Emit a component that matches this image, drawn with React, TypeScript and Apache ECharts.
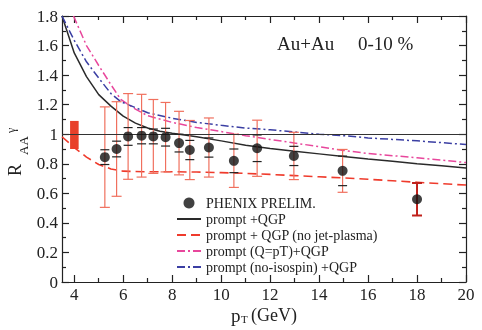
import { useEffect, useRef } from 'react';
import * as echarts from 'echarts';

// PHENIX preliminary data (pT in GeV, R_AA)
const ptData = [5.25, 5.73, 6.2, 6.75, 7.23, 7.73, 8.28, 8.72, 9.5, 10.52, 11.47, 12.97, 14.96];
const raaData = [0.845, 0.9, 0.985, 0.99, 0.985, 0.98, 0.94, 0.893, 0.91, 0.82, 0.905, 0.853, 0.752];
const statErr = [0.34, 0.32, 0.29, 0.28, 0.25, 0.235, 0.215, 0.2, 0.2, 0.18, 0.19, 0.16, 0.145];
const sysErr = [0.05, 0.053, 0.06, 0.055, 0.05, 0.06, 0.06, 0.065, 0.065, 0.08, 0.09, 0.065, 0.1];
// highest pT point (separate error style)
const ptHigh = [18.0];
const raaHigh = [0.56];
const errHigh = [0.11];

// normalization uncertainty box [x0, x1, y0, y1]
const normBox = [[3.83, 4.18, 0.9, 1.09]];
const unityLine = 1;

// model curves
const solidX = [3.5, 4, 4.5, 5, 5.5, 6, 6.5, 7, 7.5, 8, 9, 10, 11, 12, 13, 14, 15, 16, 17, 18, 19, 20];
const solidY = [1.8, 1.55, 1.39, 1.268, 1.19, 1.123, 1.075, 1.042, 1.02, 1.006, 0.983, 0.955, 0.926, 0.903, 0.884, 0.867, 0.85, 0.833, 0.817, 0.801, 0.786, 0.771];

const dashX = [3.5, 4, 4.5, 5, 5.5, 6, 7, 8, 9, 10, 11, 12, 13, 14, 15, 16, 17, 18, 19, 20];
const dashY = [0.983, 0.91, 0.845, 0.795, 0.765, 0.75, 0.746, 0.746, 0.744, 0.74, 0.735, 0.728, 0.72, 0.712, 0.704, 0.695, 0.685, 0.675, 0.665, 0.656];

const pinkX = [3.97, 4.5, 5, 5.5, 5.9, 6.5, 7, 8, 9, 10, 11, 12, 13, 14, 15, 16, 17, 18, 19, 20];
const pinkY = [1.8, 1.6, 1.465, 1.335, 1.235, 1.17, 1.125, 1.08, 1.045, 1.018, 0.99, 0.965, 0.94, 0.916, 0.89, 0.87, 0.855, 0.84, 0.825, 0.808];

const blueX = [3.5, 4, 4.5, 5, 5.5, 5.9, 6.5, 7, 8, 9, 10, 11, 12, 13, 14, 15, 16, 17, 18, 19, 20];
const blueY = [1.8, 1.635, 1.49, 1.38, 1.275, 1.22, 1.18, 1.145, 1.108, 1.08, 1.06, 1.042, 1.03, 1.015, 1.0, 0.99, 0.975, 0.965, 0.955, 0.943, 0.93];

const xMajor = [4, 6, 8, 10, 12, 14, 16, 18, 20];
const xMinor = [5, 7, 9, 11, 13, 15, 17, 19];

const legendNames = [
  'PHENIX PRELIM.',
  'prompt +QGP',
  'prompt + QGP (no jet-plasma)',
  'prompt (Q=pT)+QGP',
  'prompt (no-isospin) +QGP',
];

const FONT = 'Liberation Serif';

const zip = (a: number[], b: number[]) => a.map((v, i) => [v, b[i]]);

const errRender = (color: string, width: number, cap: number, vertical: boolean) =>
  (_p: any, api: any) => {
    const x = api.value(0);
    const lo = api.value(1);
    const hi = api.value(2);
    const a = api.coord([x, lo]);
    const b = api.coord([x, hi]);
    const st = { stroke: color, lineWidth: width, fill: null };
    const children: any[] = [
      { type: 'line', shape: { x1: a[0] - cap, y1: a[1], x2: a[0] + cap, y2: a[1] }, style: st },
      { type: 'line', shape: { x1: b[0] - cap, y1: b[1], x2: b[0] + cap, y2: b[1] }, style: st },
    ];
    if (vertical) {
      children.push({ type: 'line', shape: { x1: a[0], y1: a[1], x2: b[0], y2: b[1] }, style: st });
    }
    return { type: 'group', children };
  };

export default function App() {
  const ref = useRef<HTMLDivElement>(null);
  useEffect(() => {
    if (!ref.current) return;
    const chart = echarts.init(ref.current, null, { renderer: 'svg' });
    const axisLine = { show: true, lineStyle: { color: '#222', width: 1.2 } };
    const xBase = { type: 'value', min: 3.5, max: 20, splitLine: { show: false } };
    const tickStyle = { color: '#222', width: 1.2 };
    chart.setOption({
      animation: false,
      textStyle: { fontFamily: FONT },
      grid: { left: 62, right: 16, top: 16, bottom: 48, containLabel: false },
      title: [
        { text: 'Au+Au', left: 272, top: 29, textStyle: { fontFamily: FONT, fontSize: 19, fontWeight: 'normal', color: '#222' } },
        { text: '0-10 %', left: 353, top: 29, textStyle: { fontFamily: FONT, fontSize: 19, fontWeight: 'normal', color: '#222' } },
      ],
      legend: {
        data: legendNames.map((n, i) => (i === 0 ? { name: n } : { name: n, itemStyle: { opacity: 0 } })),
        orient: 'vertical',
        left: 171,
        top: 191,
        itemWidth: 24,
        itemHeight: 11,
        itemGap: 2,
        selectedMode: false,
        textStyle: { fontFamily: FONT, fontSize: 14, color: '#222' },
      },
      xAxis: [
        {
          ...xBase, position: 'bottom', axisLine,
          axisTick: { show: true, inside: true, length: 7, customValues: xMajor, lineStyle: tickStyle },
          axisLabel: { show: true, customValues: xMajor, fontFamily: FONT, fontSize: 17, color: '#222', margin: 4 },
        },
        {
          ...xBase, position: 'bottom', axisLine: { show: false },
          axisTick: { show: true, inside: true, length: 4, customValues: xMinor, lineStyle: tickStyle },
          axisLabel: { show: false },
        },
        {
          ...xBase, position: 'top', axisLine,
          axisTick: { show: true, inside: true, length: 7, customValues: xMajor, lineStyle: tickStyle },
          axisLabel: { show: false },
        },
        {
          ...xBase, position: 'top', axisLine: { show: false },
          axisTick: { show: true, inside: true, length: 4, customValues: xMinor, lineStyle: tickStyle },
          axisLabel: { show: false },
        },
      ],
      yAxis: [
        {
          type: 'value', min: 0, max: 1.8, interval: 0.2, position: 'left', axisLine,
          splitLine: { show: false },
          axisTick: { show: true, inside: true, length: 7, lineStyle: tickStyle },
          minorTick: { show: true, splitNumber: 2, length: 4, lineStyle: tickStyle },
          axisLabel: { fontFamily: FONT, fontSize: 17, color: '#222', margin: 4 },
        },
        {
          type: 'value', min: 0, max: 1.8, interval: 0.2, position: 'right', axisLine,
          splitLine: { show: false },
          axisTick: { show: true, inside: true, length: 7, lineStyle: tickStyle },
          minorTick: { show: true, splitNumber: 2, length: 4, lineStyle: tickStyle },
          axisLabel: { show: false },
        },
      ],
      graphic: [
        {
          type: 'group', x: 24, y: 176, rotation: Math.PI / 2,
          children: [
            { type: 'text', style: { text: 'R', x: 0, y: 0, font: `18px "${FONT}"`, fill: '#222', verticalAlign: 'bottom' } },
            { type: 'text', style: { text: 'AA', x: 21, y: 6, font: `13px "${FONT}"`, fill: '#222', verticalAlign: 'bottom' } },
            { type: 'text', style: { text: 'γ', x: 43, y: -7, font: `12px "${FONT}"`, fill: '#222', verticalAlign: 'bottom' } },
          ],
        },
        { type: 'text', left: 231, top: 306, style: { text: 'p', font: `19px "${FONT}"`, fill: '#222' } },
        { type: 'text', left: 241, top: 313, style: { text: 'T', font: `11px "${FONT}"`, fill: '#222' } },
        { type: 'text', left: 251, top: 306, style: { text: '(GeV)', font: `18px "${FONT}"`, fill: '#222' } },
      ],
      series: [
        {
          name: 'norm',
          type: 'custom',
          data: normBox,
          encode: { x: [0, 1], y: [2, 3] },
          renderItem: (_p: any, api: any) => {
            const a = api.coord([api.value(0), api.value(3)]);
            const b = api.coord([api.value(1), api.value(2)]);
            return { type: 'rect', shape: { x: a[0], y: a[1], width: b[0] - a[0], height: b[1] - a[1] }, style: { fill: '#e8402a' } };
          },
          z: 1,
        },
        {
          name: 'prompt +QGP',
          type: 'line',
          data: zip(solidX, solidY),
          symbol: 'none',
          lineStyle: { color: '#2a2a2a', width: 1.5, type: 'solid' },
          itemStyle: { color: '#2a2a2a' },
          markLine: {
            silent: true,
            symbol: 'none',
            label: { show: false },
            lineStyle: { color: '#333', width: 1.2, type: 'solid' },
            data: [{ yAxis: unityLine }],
          },
          z: 3,
        },
        {
          name: 'prompt + QGP (no jet-plasma)',
          type: 'line',
          data: zip(dashX, dashY),
          symbol: 'none',
          lineStyle: { color: '#ef3b2c', width: 1.6, type: [9, 5] },
          itemStyle: { color: '#ef3b2c' },
          z: 3,
        },
        {
          name: 'prompt (Q=pT)+QGP',
          type: 'line',
          data: zip(pinkX, pinkY),
          symbol: 'none',
          lineStyle: { color: '#e8479c', width: 1.5, type: [8, 3, 2, 3] },
          itemStyle: { color: '#e8479c' },
          z: 3,
        },
        {
          name: 'prompt (no-isospin) +QGP',
          type: 'line',
          data: zip(blueX, blueY),
          symbol: 'none',
          lineStyle: { color: '#3b3fa3', width: 1.5, type: [8, 3, 2, 3] },
          itemStyle: { color: '#3b3fa3' },
          z: 3,
        },
        {
          name: 'stat',
          type: 'custom',
          data: ptData.map((x, i) => [x, raaData[i] - statErr[i], raaData[i] + statErr[i]]),
          encode: { x: 0, y: [1, 2] },
          renderItem: errRender('#f0705e', 1.2, 5, true),
          z: 4,
        },
        {
          name: 'statHigh',
          type: 'custom',
          data: ptHigh.map((x, i) => [x, raaHigh[i] - errHigh[i], raaHigh[i] + errHigh[i]]),
          encode: { x: 0, y: [1, 2] },
          renderItem: errRender('#c0211b', 2, 5, true),
          z: 4,
        },
        {
          name: 'sys',
          type: 'custom',
          data: ptData.map((x, i) => [x, raaData[i] - sysErr[i], raaData[i] + sysErr[i]]),
          encode: { x: 0, y: [1, 2] },
          renderItem: errRender('#222', 1.2, 4.5, false),
          z: 5,
        },
        {
          name: 'PHENIX PRELIM.',
          type: 'scatter',
          data: zip(ptData.concat(ptHigh), raaData.concat(raaHigh)),
          symbol: 'circle',
          symbolSize: 10,
          itemStyle: { color: '#111' },
          z: 6,
        },
      ],
    });
    return () => chart.dispose();
  }, []);
  return <div ref={ref} style={{ position: 'fixed', left: 0, top: 0, width: 482, height: 330 }} />;
}
